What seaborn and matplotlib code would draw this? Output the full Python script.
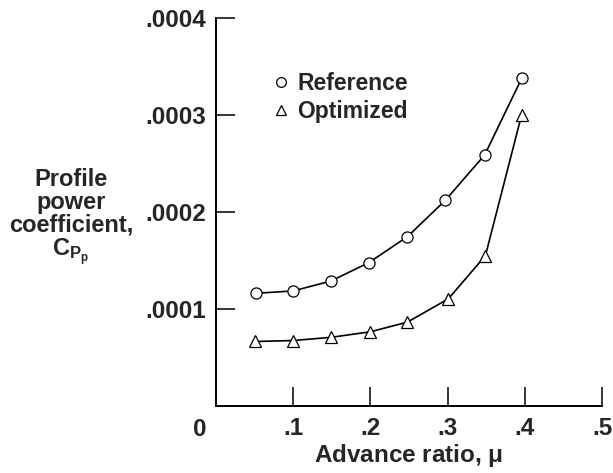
import matplotlib
matplotlib.use("Agg")
import matplotlib.pyplot as plt
import seaborn as sns
import pandas as pd
from matplotlib.lines import Line2D

# ---- data ----
mu_ref = [0.052, 0.10, 0.149, 0.198, 0.248, 0.297, 0.348, 0.396]
cp_ref = [0.0001162, 0.0001186, 0.0001289, 0.0001478, 0.0001746, 0.0002120, 0.0002588, 0.0003378]
mu_opt = [0.051, 0.10, 0.149, 0.200, 0.248, 0.301, 0.349, 0.396]
cp_opt = [0.0000665, 0.0000675, 0.0000708, 0.0000765, 0.0000865, 0.0001105, 0.0001550, 0.0003005]
series_names = ["Reference", "Optimized"]
x_ticks = [0.1, 0.2, 0.3, 0.4, 0.5]
x_tick_labels = [".1", ".2", ".3", ".4", ".5"]
y_ticks = [0.0001, 0.0002, 0.0003, 0.0004]
y_tick_labels = [".0001", ".0002", ".0003", ".0004"]

df = pd.concat([
    pd.DataFrame({"mu": mu_ref, "cp": cp_ref, "series": series_names[0]}),
    pd.DataFrame({"mu": mu_opt, "cp": cp_opt, "series": series_names[1]}),
])

sns.set_style("ticks")
plt.rcParams["font.family"] = ["Liberation Sans", "DejaVu Sans"]
plt.rcParams["font.weight"] = "bold"
plt.rcParams["mathtext.fontset"] = "custom"
plt.rcParams["mathtext.rm"] = "Liberation Sans"
plt.rcParams["mathtext.bf"] = "Liberation Sans:bold"
plt.rcParams["mathtext.it"] = "Liberation Sans:bold"

fig = plt.figure(figsize=(6.13, 4.73), dpi=100)
ax = fig.add_axes([216/613, 67/473, 386/613, 388/473])

markers = {"Reference": "o", "Optimized": "^"}
for name in series_names:
    sub = df[df["series"] == name]
    sns.lineplot(data=sub, x="mu", y="cp", ax=ax, color="black", lw=1.2,
                 marker=markers[name], markersize=8 if name == "Reference" else 9,
                 markerfacecolor="white", markeredgecolor="black",
                 markeredgewidth=0.9, legend=False)

ax.set_xlim(0, 0.5)
ax.set_ylim(0, 0.0004)
ax.set_xticks(x_ticks)
ax.set_xticklabels(x_tick_labels)
ax.set_yticks(y_ticks)
ax.set_yticklabels(y_tick_labels)
for lab in ax.get_xticklabels() + ax.get_yticklabels():
    lab.set_fontweight("bold")
    lab.set_fontsize(17.5)
ax.tick_params(axis="both", direction="in", length=14, width=1.1, color="black")
ax.tick_params(axis="y", pad=7)
ax.tick_params(axis="x", pad=8)
for s in ["top", "right"]:
    ax.spines[s].set_visible(False)
for s in ["left", "bottom"]:
    ax.spines[s].set_linewidth(1.4)
    ax.spines[s].set_color("black")

ax.set_xlabel(r"Advance ratio, $\mathrm{\mu}$", fontsize=17.5, fontweight="bold", labelpad=1)
ax.set_ylabel("")
ax.annotate("0", xy=(0, 0), xycoords="data", xytext=(-12, -8.5), textcoords="offset points",
            ha="center", va="top", fontsize=17.5, fontweight="bold")

fig.text(71/613, 1 - 218/473,
         "Profile\npower\ncoefficient,\n" + r"$\mathbf{C}_{\mathbf{P}_{\mathbf{p}}}$",
         ha="center", va="center", fontsize=17, fontweight="bold", linespacing=1.0)

handles = [Line2D([], [], ls="none", marker="o", markersize=7, markerfacecolor="white",
                  markeredgecolor="black", markeredgewidth=0.9),
           Line2D([], [], ls="none", marker="^", markersize=7, markerfacecolor="white",
                  markeredgecolor="black", markeredgewidth=0.9)]
leg = ax.legend(handles, series_names, loc="upper left", bbox_to_anchor=(0.145, 0.862),
                frameon=False, handlelength=0.8, handletextpad=0.3, labelspacing=0.22,
                borderaxespad=0, borderpad=0, prop={"size": 16.5, "weight": "bold"})

fig.savefig("out.png", dpi=100)
